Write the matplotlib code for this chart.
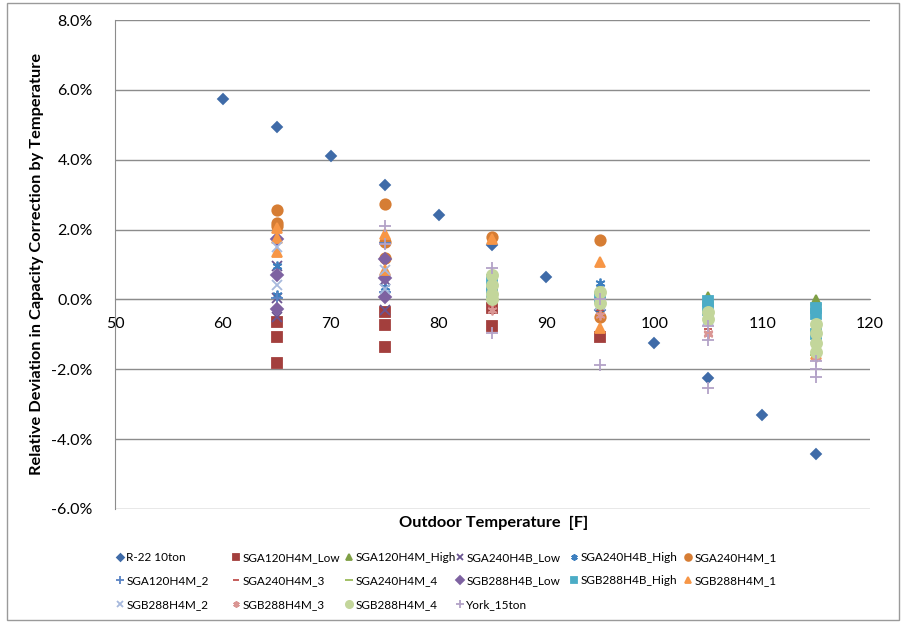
import matplotlib
matplotlib.use("Agg")
import matplotlib.pyplot as plt
from matplotlib.patches import Rectangle
from matplotlib.ticker import FuncFormatter, MultipleLocator

plt.rcParams['font.family'] = ['Lato', 'DejaVu Sans']

# data (temperature [F], deviation [%])
r22_t = [60, 65, 70, 75, 80, 85, 90, 95, 100, 105, 110, 115]
r22_v = [5.75, 4.95, 4.12, 3.28, 2.43, 1.55, 0.65, -0.30, -1.25, -2.26, -3.30, -4.42]

sga120_low_t = [65, 65, 65, 75, 75, 75, 85, 85, 95]
sga120_low_v = [-0.66, -1.08, -1.83, -0.35, -0.74, -1.37, -0.25, -0.75, -1.08]

sga120_high_t = [85, 95, 95, 105, 115]
sga120_high_v = [0.35, 0.32, 0.15, 0.08, -0.02]

sga240b_low_t = [65, 65, 65, 75, 75]
sga240b_low_v = [0.95, 0.05, -0.51, -0.31, 0.55]

sga240b_high_t = [65, 65, 75, 85, 95]
sga240b_high_v = [0.95, 0.12, 0.35, 0.50, 0.48]

sga240_1_t = [65, 65, 65, 75, 75, 75, 85, 95, 95]
sga240_1_v = [2.57, 2.20, 2.10, 2.74, 1.63, 1.18, 1.80, 1.69, -0.50]

sga120_2_t = [65, 75, 75, 85, 95]
sga120_2_v = [0.05, 1.62, 0.20, 0.30, -0.05]

sga240_3_t = [85, 95, 105, 115]
sga240_3_v = [-0.20, -0.30, -0.85, -1.00]

sga240_4_t = [95, 105, 115]
sga240_4_v = [0.15, -0.10, -1.60]

sgb288b_low_t = [65, 65, 65, 75, 75, 75]
sgb288b_low_v = [1.74, 0.69, -0.26, 1.15, 0.60, 0.06]

sgb288b_high_t = [85, 85, 95, 105, 105, 115, 115, 115]
sgb288b_high_v = [0.55, 0.20, 0.05, -0.05, -0.30, -0.25, -0.42, -1.00]

sgb288_1_t = [65, 65, 65, 75, 75, 85, 95, 95, 115]
sgb288_1_v = [2.05, 1.75, 1.35, 1.88, 0.85, 1.72, 1.06, -0.82, -1.55]

sgb288_2_t = [65, 65, 75, 75, 85, 95, 105, 115]
sgb288_2_v = [1.50, 0.40, 0.85, 0.30, 0.10, -0.15, -0.60, -1.10]

sgb288_3_t = [85, 95, 105, 105, 115, 115]
sgb288_3_v = [-0.30, -0.45, -0.95, -1.00, -1.20, -1.65]

sgb288_4_t = [85, 85, 85, 85, 95, 95, 105, 105, 115, 115, 115, 115]
sgb288_4_v = [0.70, 0.40, 0.15, 0.00, 0.20, -0.10, -0.35, -0.55, -0.70, -0.95, -1.25, -1.50]

york_t = [75, 75, 85, 85, 95, 95, 105, 105, 105, 115, 115, 115]
york_v = [2.09, 1.60, 0.91, -0.96, -1.88, 0.00, -0.75, -1.17, -2.55, -1.75, -2.00, -2.22]

# series in Excel order: (name, temps, values, marker, size, colour)
series = [
    ("R-22 10ton", r22_t, r22_v, "D", 5.5, "#3F6BA8"),
    ("SGA120H4M_Low", sga120_low_t, sga120_low_v, "s", 7, "#A33F3D"),
    ("SGA120H4M_High", sga120_high_t, sga120_high_v, "^", 7, "#7F9F45"),
    ("SGA240H4B_Low", sga240b_low_t, sga240b_low_v, "x", 6.5, "#6A5591"),
    ("SGA240H4B_High", sga240b_high_t, sga240b_high_v, (6, 2, 0), 7, "#3D7FBF"),
    ("SGA240H4M_1", sga240_1_t, sga240_1_v, "o", 7.5, "#D67D34"),
    ("SGA120H4M_2", sga120_2_t, sga120_2_v, "+", 8, "#5B84C4"),
    ("SGA240H4M_3", sga240_3_t, sga240_3_v, "_", 6, "#C0504D"),
    ("SGA240H4M_4", sga240_4_t, sga240_4_v, "_", 8, "#9BBB59"),
    ("SGB288H4B_Low", sgb288b_low_t, sgb288b_low_v, "D", 6, "#7E62A1"),
    ("SGB288H4B_High", sgb288b_high_t, sgb288b_high_v, "s", 7, "#4BACC6"),
    ("SGB288H4M_1", sgb288_1_t, sgb288_1_v, "^", 7.5, "#F79646"),
    ("SGB288H4M_2", sgb288_2_t, sgb288_2_v, "x", 6.5, "#A7B9DD"),
    ("SGB288H4M_3", sgb288_3_t, sgb288_3_v, (6, 2, 0), 7, "#DA9694"),
    ("SGB288H4M_4", sgb288_4_t, sgb288_4_v, "o", 8, "#C3D69B"),
    ("York_15ton", york_t, york_v, "+", 8, "#B3A2C7"),
]

fig = plt.figure(figsize=(9.01, 6.23), dpi=100)
ax = fig.add_axes([115 / 901, 1 - 509 / 623, 755 / 901, 489 / 623])

# chart area border
fig.patches.append(Rectangle((7 / 901, 3 / 623), 892 / 901, 617 / 623, transform=fig.transFigure,
                             fill=False, edgecolor="#9a9a9a", linewidth=1))

handles = []
for name, t, v, mk, ms, col in series:
    h, = ax.plot(t, v, linestyle="none", marker=mk, markersize=ms, color=col,
                 markeredgecolor=col, markeredgewidth=1.3, label=name, zorder=3)
    handles.append(h)

ax.set_xlim(50, 120)
ax.set_ylim(-6, 8)
ax.xaxis.set_major_locator(MultipleLocator(10))
ax.yaxis.set_major_locator(MultipleLocator(2))
ax.yaxis.set_major_formatter(FuncFormatter(lambda y, _: f"{y:.1f}%"))
ax.grid(axis="y", color="#8c8c8c", linewidth=1)
ax.set_axisbelow(True)

for s in ["top", "right"]:
    ax.spines[s].set_visible(False)
ax.spines["bottom"].set_position(("data", 0))
ax.spines["bottom"].set_color("#8c8c8c")
ax.spines["left"].set_color("#8c8c8c")
ax.tick_params(axis="x", length=0, pad=13, labelsize=11.5)
ax.tick_params(axis="y", length=0, pad=16, labelsize=11.5)

fig.text(37 / 901, 1 - 264 / 623, "Relative Deviation in Capacity Correction by Temperature",
         rotation=90, ha="center", va="center", fontsize=11.8, fontweight="bold")
fig.text(494 / 901, 1 - 523 / 623, "Outdoor Temperature  [F]",
         ha="center", va="center", fontsize=11.8, fontweight="bold")

# Excel legend: 6 fixed-width columns filled row by row -> one legend per column
col_x = [115.5, 231.5, 344.5, 455.5, 569.5, 683.5]
for c, x in enumerate(col_x):
    idx = list(range(c, len(series), 6))
    fig.legend([handles[i] for i in idx], [series[i][0] for i in idx],
               loc="upper left", bbox_to_anchor=(x / 901, 1 - 552 / 623), ncol=1,
               frameon=False, fontsize=8.5, handlelength=0.75, handletextpad=0.15,
               markerscale=0.65, labelspacing=1.05, borderpad=0, borderaxespad=0)

fig.savefig("out.png", dpi=100)
